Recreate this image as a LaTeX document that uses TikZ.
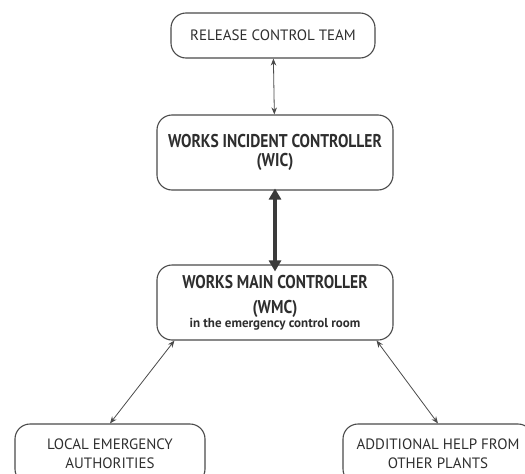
\documentclass[tikz,border=0pt]{standalone}
\usepackage{fontspec}
\setmainfont{PT Sans}
\newfontfamily\titlefont[FakeStretch=0.84]{PT Sans}
\usetikzlibrary{arrows.meta}
\definecolor{boxline}{HTML}{4A4A4A}
\definecolor{boxtext}{HTML}{2E2E2E}
\tikzset{
  ctrlbox/.style={draw=boxline, line width=1.1pt, rounded corners=15pt,
    align=center, text=boxtext, inner sep=0pt},
  link/.style={draw=boxline, line width=0.8pt,
    {Stealth[length=7pt,width=5.5pt]}-{Stealth[length=7pt,width=5.5pt]}},
  mainlink/.style={draw=boxline!80!black, line width=4pt,
    {Stealth[length=11pt,width=12pt,inset=0pt]}-{Stealth[length=11pt,width=12pt,inset=0pt]}}
}
\begin{document}
\begin{tikzpicture}[x=1pt,y=-1pt]
\useasboundingbox (0,0) rectangle (525,474);
\clip (0,0) rectangle (525,474);
\node[ctrlbox, minimum width=204pt, minimum height=45pt,
  font=\fontsize{15}{18}\selectfont] (team) at (273,35.5) {RELEASE CONTROL TEAM};
\node[ctrlbox, minimum width=236pt, minimum height=75pt,
  font=\titlefont\bfseries\fontsize{18.5}{19.5}\selectfont] (wic) at (275,152.5)
  {WORKS INCIDENT CONTROLLER\\(WIC)};
\node[ctrlbox, minimum width=236pt, minimum height=75pt,
  font=\titlefont\bfseries\fontsize{18.5}{25}\selectfont] (wmc) at (275,302.5)
  {WORKS MAIN CONTROLLER\\(WMC)\\[-11pt]
   {\normalfont\bfseries\fontsize{13}{13}\selectfont in the emergency control room}};
\node[ctrlbox, minimum width=190pt, minimum height=60pt,
  font=\fontsize{15}{19}\selectfont] (local) at (110,454)
  {LOCAL EMERGENCY\\AUTHORITIES};
\node[ctrlbox, minimum width=190pt, minimum height=60pt,
  font=\fontsize{15}{19}\selectfont] (help) at (438,454)
  {ADDITIONAL HELP FROM\\OTHER PLANTS};
% connectors
\draw[link] (team) -- (wic);
\draw[mainlink] ([yshift=2pt]wic.south) -- ([yshift=-7pt]wmc.north);
\draw[link] ([xshift=18pt]wmc.south west) -- (local.north);
\draw[link] ([xshift=-17pt]wmc.south east) -- (help.north);
\end{tikzpicture}
\end{document}
